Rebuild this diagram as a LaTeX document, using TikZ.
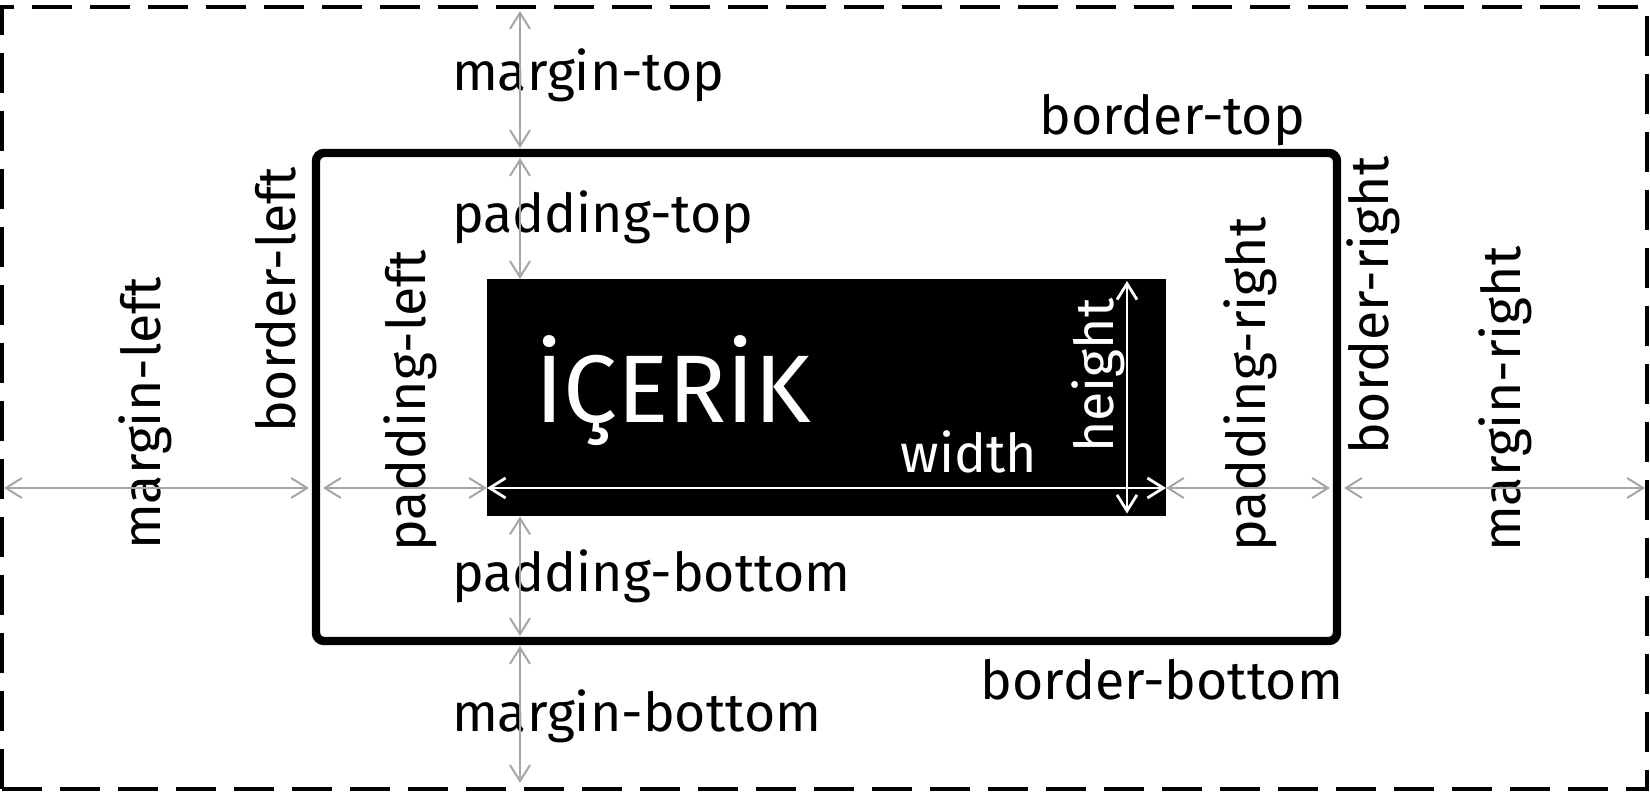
\documentclass[tikz,border=0pt]{standalone}
\usepackage{fontspec}
\setmainfont{Fira Sans}
\usetikzlibrary{arrows.meta}
\definecolor{dimgray}{HTML}{A6A6A6}
\begin{document}
\begin{tikzpicture}[x=0.5pt,y=-0.5pt,
  lbl/.style={font=\fontsize{26.8}{29}\selectfont, inner sep=0pt, outer sep=0pt},
  hlbl/.style={lbl, anchor=base west},
  hrlbl/.style={lbl, anchor=base east},
  vlbl/.style={lbl, rotate=90, anchor=base west},
  dimline/.style={draw=dimgray, line width=1pt, {Straight Barb[length=8pt,width=10pt]}-{Straight Barb[length=8pt,width=10pt]}},
  whiteline/.style={dimline, draw=white, line width=1.4pt},
  box/.style={rectangle, inner sep=0pt, outer sep=0pt}
]
\useasboundingbox (0,0) rectangle (1650,795);
% boxes
\node[box, draw, line width=1.8pt, dash pattern=on 20pt off 9pt,
      minimum width=822.5pt, minimum height=391pt] (outer) at (824.5,398) {};
\node[box, draw, line width=4.2pt, rounded corners=4pt,
      minimum width=510.5pt, minimum height=244pt] (border) at (826.5,397) {};
\node[box, fill=black, minimum width=339.5pt, minimum height=118.75pt] (content) at (826.5,397.75) {};
% helper coordinates
\coordinate (row) at (0,488);
\coordinate (col) at (520,0);
\coordinate (hcol) at (1127,0);
\coordinate (oW) at ([xshift=1pt]outer.west);
\coordinate (oE) at ([xshift=-1pt]outer.east);
\coordinate (oN) at ([yshift=-2pt]outer.north);
\coordinate (oS) at ([yshift=3pt]outer.south);
\coordinate (bWo) at ([xshift=-3.5pt]border.west);
\coordinate (bWi) at ([xshift=3.5pt]border.west);
\coordinate (bEi) at ([xshift=-3.5pt]border.east);
\coordinate (bEo) at ([xshift=3.5pt]border.east);
\coordinate (bNo) at ([yshift=2.5pt]border.north);
\coordinate (bNi) at ([yshift=-2.5pt]border.north);
\coordinate (bSi) at ([yshift=2.5pt]border.south);
\coordinate (bSo) at ([yshift=-2.5pt]border.south);
\coordinate (cN) at ([yshift=-1pt]content.north);
\coordinate (cS) at ([yshift=1.5pt]content.south);
% labels
\node[hlbl] (mt) at (452,91) {margin-top};
\node[hlbl] (pt) at (452,233) {padding-top};
\node[hlbl] (pb) at (452,592) {padding-bottom};
\node[hlbl] (mb) at (452,732) {margin-bottom};
\node[hrlbl] (bt) at (1305,135) {border-top};
\node[hrlbl] (bb) at (1343,700) {border-bottom};
\node[vlbl] (ml) at (160,550) {margin-left};
\node[vlbl] (bl) at (295,433) {border-left};
\node[vlbl] (pl) at (425,552) {padding-left};
\node[vlbl] (pr) at (1265,552) {padding-right};
\node[vlbl] (br) at (1388,455) {border-right};
\node[vlbl] (mr) at (1520,552) {margin-right};
\node[hlbl, text=white, font=\fontsize{48}{50}\selectfont] (ic) at (535,423) {İÇERİK};
\node[hrlbl, text=white] (w) at (1037,473) {width};
\node[vlbl, text=white] (h) at (1113,453) {height};
% dimension arrows
\draw[dimline] (oW |- row) -- (bWo |- row);
\draw[dimline] (bWi |- row) -- (content.west |- row);
\draw[whiteline] (content.west |- row) -- (content.east |- row);
\draw[dimline] (content.east |- row) -- (bEi |- row);
\draw[dimline] (bEo |- row) -- (oE |- row);
\draw[dimline] (oN -| col) -- (bNo -| col);
\draw[dimline] (bNi -| col) -- (content.north -| col);
\draw[dimline] (content.south -| col) -- (bSi -| col);
\draw[dimline] (bSo -| col) -- (oS -| col);
\draw[whiteline] (cN -| hcol) -- (cS -| hcol);
\end{tikzpicture}
\end{document}
